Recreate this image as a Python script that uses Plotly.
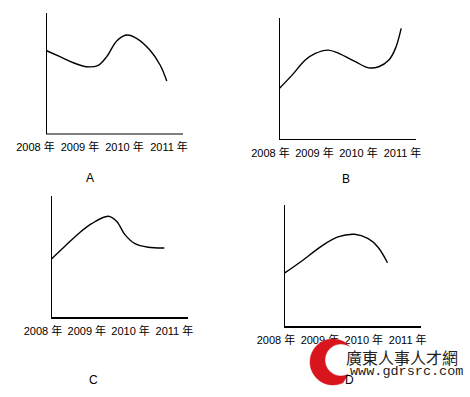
import math
import plotly.graph_objects as go

W, H = 470, 397

years = [2008, 2009, 2010, 2011]
tick_labels = ["2008 年", "2009 年", "2010 年", "2011 年"]
panel_names = ["A", "B", "C", "D"]

# Curves (x in years, y in 0-100 relative height)
a_x = [2008.25, 2008.55, 2008.85, 2009.15, 2009.41, 2009.60, 2009.83, 2010.05, 2010.27, 2010.57, 2010.80, 2010.95]
a_y = [68.8, 63.9, 58.9, 55.6, 56.8, 63.9, 77.1, 81.8, 79.1, 69.4, 57.0, 43.8]

b_x = [2008.20, 2008.49, 2008.79, 2009.02, 2009.31, 2009.55, 2009.93, 2010.23, 2010.46, 2010.69, 2010.84, 2010.97]
b_y = [42.0, 53.0, 65.4, 70.9, 73.6, 70.9, 64.0, 59.0, 59.9, 65.4, 75.0, 91.5]

c_x = [2008.20, 2008.50, 2008.81, 2009.11, 2009.49, 2009.68, 2009.87, 2010.10, 2010.40, 2010.77]
c_y = [48.6, 58.8, 69.1, 77.3, 83.4, 79.3, 68.3, 60.9, 58.0, 57.4]

d_x = [2008.20, 2008.58, 2009.03, 2009.41, 2009.79, 2010.10, 2010.32, 2010.54]
d_y = [44.3, 53.9, 66.1, 73.8, 76.0, 72.4, 65.6, 52.7]


def px(x):
    return x / W


def py(y):
    return 1 - y / H


panels = [
    dict(t0=35.5, s=44.5, ax=46.5, top=13, bot=134, right=183, lw=1, lx=90, ly=178),
    dict(t0=270.5, s=44.0, ax=279.5, top=18, bot=139.5, right=416, lw=1, lx=346, ly=179),
    dict(t0=43.0, s=43.8, ax=51.5, top=196, bot=318, right=188, lw=2, lx=93, ly=380),
    dict(t0=276.0, s=43.9, ax=284.5, top=205, bot=327, right=421, lw=2, lx=349, ly=380),
]
curves = [(a_x, a_y), (b_x, b_y), (c_x, c_y), (d_x, d_y)]

fig = go.Figure()
shapes = []
annotations = []
font = dict(family="Liberation Sans, Noto Sans CJK SC", size=11, color="black")

for i, (p, (cx, cy)) in enumerate(zip(panels, curves)):
    n = "" if i == 0 else str(i + 1)
    left_px = p["t0"] - 32
    right_px = p["t0"] + 3 * p["s"] + 32
    xr = [2008 + (left_px - p["t0"]) / p["s"], 2008 + (right_px - p["t0"]) / p["s"]]
    fig.add_trace(go.Scatter(
        x=cx, y=cy, mode="lines",
        line=dict(color="black", width=1.4, shape="spline", smoothing=1.0),
        xaxis="x" + n, yaxis="y" + n, hoverinfo="skip",
    ))
    fig.layout["xaxis" + n] = dict(
        domain=[px(left_px), px(right_px)], range=xr, anchor="y" + n,
        showgrid=False, zeroline=False, showline=False,
        tickvals=years, ticktext=tick_labels, ticks="outside", ticklen=3,
        tickcolor="rgba(0,0,0,0)", tickfont=font, fixedrange=True,
    )
    fig.layout["yaxis" + n] = dict(
        domain=[py(p["bot"]), py(p["top"])], range=[0, 100], anchor="x" + n,
        visible=False, fixedrange=True,
    )
    shapes.append(dict(type="line", xref="paper", yref="paper",
                       x0=px(p["ax"]), x1=px(p["ax"]), y0=py(p["bot"]), y1=py(p["top"]),
                       line=dict(color="black", width=1)))
    shapes.append(dict(type="line", xref="paper", yref="paper",
                       x0=px(p["ax"] - 0.5), x1=px(p["right"]), y0=py(p["bot"]), y1=py(p["bot"]),
                       line=dict(color="black", width=p["lw"])))
    annotations.append(dict(text=panel_names[i], xref="paper", yref="paper",
                            x=px(p["lx"]), y=py(p["ly"]), showarrow=False,
                            xanchor="center", yanchor="middle",
                            font=dict(family="Liberation Sans", size=12, color="black")))

# watermark logo (red crescent)
pts = []
cxo, cyo, ro = 333, 362, 23
for k in range(0, 41):
    t = math.radians(-58 - k * (238 / 40))
    pts.append((cxo + ro * math.cos(t), cyo + ro * math.sin(t)))
cxi, cyi, ri = 341, 360, 16
for k in range(0, 41):
    t = math.radians(-58 - 238 + k * (238 / 40))
    pts.append((cxi + ri * math.cos(t), cyi + ri * math.sin(t)))
path = "M " + " L ".join(f"{px(x):.5f},{py(y):.5f}" for x, y in pts) + " Z"
shapes.append(dict(type="path", xref="paper", yref="paper", path=path,
                   fillcolor="#d8141c", line=dict(color="#d8141c", width=0.5), layer="above"))

annotations.append(dict(text="廣東人事人才網", xref="paper", yref="paper",
                        x=px(402), y=py(357), showarrow=False, xanchor="center", yanchor="middle",
                        font=dict(family="Noto Sans CJK TC", size=16, color="#222222")))
annotations.append(dict(text="www.gdrsrc.com", xref="paper", yref="paper",
                        x=px(406), y=py(371), showarrow=False, xanchor="center", yanchor="middle",
                        font=dict(family="Liberation Mono", size=13.5, color="#222222")))

fig.update_layout(
    width=W, height=H, margin=dict(l=0, r=0, t=0, b=0),
    paper_bgcolor="white", plot_bgcolor="white", showlegend=False,
    shapes=shapes, annotations=annotations,
)

fig.write_html("out.html", config={"displayModeBar": False, "staticPlot": True},
               post_script="document.body.style.margin='0px';document.body.style.overflow='hidden';")
